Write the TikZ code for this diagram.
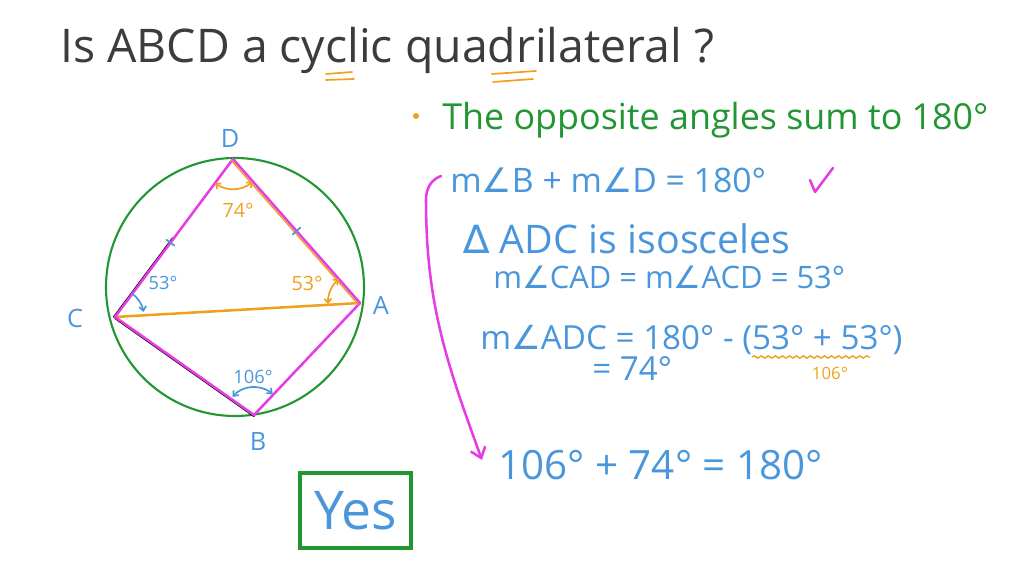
\documentclass[tikz,border=0pt]{standalone}
\usepackage{fontspec}
\setmainfont{Open Sans}
\newfontfamily\symb{DejaVu Sans}
\usetikzlibrary{arrows.meta,decorations.pathmorphing,calc}

\definecolor{penblue}{RGB}{74,150,220}
\definecolor{pengreen}{RGB}{34,150,50}
\definecolor{penorange}{RGB}{240,160,30}
\definecolor{penpink}{RGB}{230,60,230}
\definecolor{pengray}{RGB}{60,60,60}

\tikzset{
  pen/.style={line width=1.8pt, line cap=round, line join=round},
  thin pen/.style={line width=1.2pt, line cap=round},
  txt/.style={anchor=base west, inner sep=0pt, text=penblue},
  vlabel/.style={text=penblue, inner sep=0pt, font=\fontsize{18}{20}\selectfont},
  anglab/.style={inner sep=0pt, font=\fontsize{14}{16}\selectfont},
  barbs/.style={{Straight Barb[length=3pt,width=5pt]}-{Straight Barb[length=3pt,width=5pt]}},
  barb/.style={-{Straight Barb[length=3pt,width=5pt]}},
}

\begin{document}
\begin{tikzpicture}[x=0.025cm, y=0.025cm]
  \useasboundingbox (0,0) rectangle (1024,576);

  % question
  \node[txt, text=pengray, font=\fontsize{33}{38}\selectfont] (title) at (60,513) {Is ABCD a cyclic quadrilateral ?};
  \draw[thin pen, penorange] (326,502) -- (352,504);
  \draw[thin pen, penorange] (326,496) -- (354,497);
  \draw[thin pen, penorange] (492,502) -- (536,505);
  \draw[thin pen, penorange] (493,494) -- (533,497);

  % circle and quadrilateral
  \coordinate (A) at (360,273);
  \coordinate (B) at (254,161);
  \coordinate (C) at (115,259);
  \coordinate (D) at (233,417);
  \coordinate (O) at (235,289);

  \draw[pen, pengreen, line width=1.5pt] (O) circle[radius=129];
  \draw[pen, black, line width=1pt] ([xshift=-1pt]C) -- ([xshift=-1pt]$(C)!0.5!(D)$);
  \draw[pen, black, line width=1pt] ([yshift=-1pt]C) -- ([yshift=-1pt]B);
  \draw[pen, penorange] (C) -- (A);
  \draw[pen, penpink] (A) -- (D) -- (C) -- (B) -- cycle;
  \draw[thin pen, penorange, line width=1pt] ([xshift=-1.2pt,yshift=-1pt]D) -- ([xshift=-1.2pt,yshift=-1pt]A);

  % equal sides
  \draw[thin pen, penblue] ($(D)!0.53!(C)!3.5pt!90:(C)$) -- ($(D)!0.53!(C)!3.5pt!-90:(C)$);
  \draw[thin pen, penblue] ($(D)!0.5!(A)!3.5pt!90:(A)$) -- ($(D)!0.5!(A)!3.5pt!-90:(A)$);

  % angles
  \draw[thin pen, penorange, barbs] ($(D)+(233:30)$) arc[start angle=233, end angle=311, radius=30];
  \draw[thin pen, penorange, barbs] ($(A)+(131:32)$) arc[start angle=131, end angle=182, radius=32];
  \draw[thin pen, penblue, barb] ($(C)+(55:29)$) arc[start angle=55, end angle=10, radius=29];
  \draw[thin pen, penblue, barbs] ($(B)+(140:28)$) arc[start angle=140, end angle=48, radius=28];

  \node[vlabel] (lA) at (381,271) {A};
  \node[vlabel] (lB) at (258,135) {B};
  \node[vlabel] (lC) at (75,258) {C};
  \node[vlabel] (lD) at (230,438) {D};

  \node[anglab, text=penorange] (aD) at (238,366) {74°};
  \node[anglab, text=penorange] (aA) at (307,293) {53°};
  \node[anglab, text=penblue, font=\fontsize{13}{15}\selectfont] (aC) at (163,293) {53°};
  \node[anglab, text=penblue, font=\fontsize{13}{15}\selectfont] (aB) at (253,199) {106°};

  % working
  \fill[penorange] (416,460) circle[radius=3];
  \node[txt, text=pengreen, font=\fontsize{25.5}{30}\selectfont] (rule) at (442,446) {The opposite angles sum to 180°};

  \node[txt, font=\fontsize{24}{28}\selectfont] (sum) at (450,383) {m{\symb ∠}B + m{\symb ∠}D = 180°};
  \draw[pen, penpink] (810,396) -- (815,384) -- (833,408);

  \node[txt, font=\fontsize{28}{32}\selectfont] (iso) at (463,322) {{\symb ∆} ADC is isosceles};
  \node[txt, font=\fontsize{22}{26}\selectfont] (base) at (493,287) {m{\symb ∠}CAD = m{\symb ∠}ACD = 53°};

  \node[txt, font=\fontsize{23.6}{26}\selectfont] (adc) at (480,226) {m{\symb ∠}ADC = 180° - (53° + 53°)};
  \node[txt, font=\fontsize{23.6}{26}\selectfont] (adc2) at (592,195) {= 74°};
  \draw[penorange, line width=1pt, decorate, decoration={snake, amplitude=0.8pt, segment length=5pt}] (752,219) -- (870,219);
  \node[anglab, text=penorange, font=\fontsize{12}{14}\selectfont] (sub) at (830,203) {106°};

  \node[txt, font=\fontsize{28.7}{32}\selectfont] (total) at (498,96) {106° + 74° = 180°};

  \coordinate (hook) at (441,400);
  \coordinate (tip) at (482,116);
  \draw[pen, penpink, -{Straight Barb[length=7pt,width=11pt]}] (hook) to[out=200,in=90] (426,376) to[out=-90,in=110] (tip);

  % answer
  \node[draw=pengreen, line width=2.2pt, minimum width=2.775cm, minimum height=1.875cm,
        text=penblue, font=\fontsize{38}{42}\selectfont] (yes) at (355.5,65.5) {Yes};
\end{tikzpicture}
\end{document}
